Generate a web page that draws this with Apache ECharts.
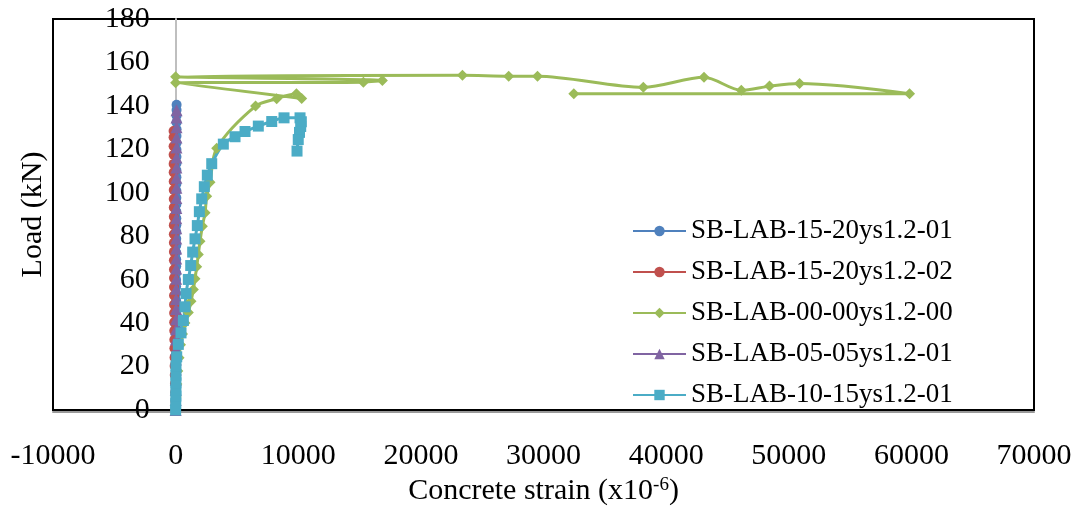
<!DOCTYPE html>
<html>
<head>
<meta charset="utf-8">
<script src="https://cdn.jsdelivr.net/npm/echarts@6/dist/echarts.min.js"></script>
<style>
  html, body { margin: 0; padding: 0; background: #fff; }
  #chart { width: 1083px; height: 506px; }
</style>
</head>
<body>
<div id="chart"></div>
<script>
// Load vs. concrete strain for five slab specimens
const seriesNames = [
  'SB-LAB-15-20ys1.2-01',
  'SB-LAB-15-20ys1.2-02',
  'SB-LAB-00-00ys1.2-00',
  'SB-LAB-05-05ys1.2-01',
  'SB-LAB-10-15ys1.2-01'
];

// SB-LAB-15-20ys1.2-01 (strain in microstrain, load in kN)
const strainA = [0, 4, 8, 10, 12, 15, 18, 20, 22, 25, 26, 28, 30, 31, 33, 35, 36, 38, 40, 41, 43, 44, 46, 47, 49, 50, 52, 53, 55, 56, 58, 59, 61, 62, 64, 65, 67, 68, 70, 71, 72, 74, 75, 77, 78, 80];
const loadA   = [0, 3.2, 6.1, 9.4, 12.6, 15.8, 18.9, 22.1, 25.3, 28.4, 31.6, 34.7, 37.9, 41.0, 44.2, 47.3, 50.5, 53.6, 56.8, 59.9, 63.1, 66.2, 69.4, 72.5, 75.7, 78.8, 82.0, 85.1, 88.3, 91.4, 94.6, 97.7, 100.9, 104.0, 107.2, 110.3, 113.5, 116.6, 119.8, 122.9, 126.1, 129.2, 132.4, 135.5, 138.1, 140.5];

// SB-LAB-15-20ys1.2-02
const strainB = [0, -20, -40, -55, -70, -80, -90, -100, -105, -110, -115, -120, -125, -128, -130, -133, -136, -138, -140, -142, -144, -146, -148, -150, -152, -154, -156, -158, -160, -162, -164, -166, -168];
const loadB   = [0, 4.1, 8.0, 12.2, 16.1, 20.3, 24.2, 28.4, 32.3, 36.5, 40.4, 44.6, 48.5, 52.7, 56.6, 60.8, 64.7, 68.9, 72.8, 77.0, 80.9, 85.1, 89.0, 93.2, 97.1, 101.3, 105.2, 109.4, 113.3, 117.5, 121.4, 125.6, 128.4];

// SB-LAB-00-00ys1.2-00
const strainC = [0, 40, 100, 180, 280, 400, 560, 760, 1036, 1256, 1445, 1580, 1720, 1850, 1990, 2180, 2400, 2535, 2805, 3350, 6520, 8240, 9850, 10280, 0, 15310, 16860, 0, 23390, 27160, 29510, 38140, 43090, 46130, 48430, 50880, 59850, 32470];
const loadC   = [0, 6.0, 12.0, 18.0, 24.0, 30.0, 35.0, 40.0, 44.9, 50.1, 55.5, 60.4, 65.9, 71.6, 77.7, 84.6, 90.8, 98.4, 104.9, 120.5, 139.9, 143.3, 145.6, 143.4, 150.6, 150.9, 151.7, 153.4, 154.1, 153.7, 153.7, 148.6, 153.2, 147.2, 149.1, 150.3, 145.6, 145.6];

// SB-LAB-05-05ys1.2-01
const strainD = [0, 5, 10, 14, 18, 22, 25, 28, 30, 33, 35, 37, 39, 41, 43, 45, 47, 49, 51, 53, 55, 57, 59, 61, 63, 65, 67, 69, 71, 73, 75];
const loadD   = [0, 4.6, 9.3, 13.9, 18.6, 23.2, 27.9, 32.5, 37.2, 41.8, 46.5, 51.1, 55.8, 60.4, 65.1, 69.7, 74.4, 79.0, 83.7, 88.3, 93.0, 97.6, 102.3, 106.9, 111.6, 116.2, 120.9, 125.5, 130.2, 134.6, 138.0];

// SB-LAB-10-15ys1.2-01
const strainE = [0, 10, 20, 25, 25, 30, 30, 90, 220, 440, 630, 767, 850, 1036, 1230, 1390, 1580, 1770, 1935, 2128, 2340, 2585, 2944, 3890, 4844, 5660, 6744, 7837, 8840, 10145, 10250, 10200, 10100, 10000, 9900];
const loadE   = [0, 3.0, 6.4, 9.0, 12.5, 16.0, 20.2, 24.5, 30.2, 35.5, 41.2, 47.5, 53.6, 60.1, 66.5, 72.7, 78.8, 84.9, 91.3, 97.2, 102.8, 108.1, 113.4, 122.4, 125.8, 128.2, 130.7, 132.8, 134.5, 134.5, 132.7, 130.5, 127.8, 124.5, 119.2];

const strainTicks = { min: -10000, max: 70000, interval: 10000 };
const loadTicks = { min: 0, max: 180, interval: 20 };

const colors = ['#4F81BD', '#C0504D', '#9BBB59', '#8064A2', '#4BACC6'];
const symbols = ['circle', 'circle', 'diamond', 'triangle', 'rect'];
const symbolSizes = [10, 10, 11, 12, 11];
const smoothing = [0, 0, 0.3, 0, 0.3];
const FONT = '"Liberation Serif", "Times New Roman", serif';

const GRID = { left: 53, right: 49, top: 19, bottom: 96 };
const PLOT_W = 1083 - GRID.left - GRID.right;
// shift the load axis so it sits on the zero-strain line
const yAxisShift = PLOT_W * (0 - strainTicks.min) / (strainTicks.max - strainTicks.min);

function pairs(xs, ys) {
  return xs.map((x, i) => [x, ys[i]]);
}
const datasets = [
  pairs(strainA, loadA),
  pairs(strainB, loadB),
  pairs(strainC, loadC),
  pairs(strainD, loadD),
  pairs(strainE, loadE)
];

const chart = echarts.init(document.getElementById('chart'), null, { renderer: 'canvas' });

chart.setOption({
  animation: false,
  backgroundColor: '#fff',
  grid: {
    left: GRID.left, right: GRID.right, top: GRID.top, bottom: GRID.bottom,
    containLabel: false,
    outerBoundsMode: 'none',
    show: true, borderColor: '#000', borderWidth: 2, backgroundColor: 'transparent'
  },
  legend: {
    orient: 'vertical',
    left: 627,
    top: 211,
    itemWidth: 53,
    itemHeight: 13,
    itemGap: 11,
    textStyle: { fontFamily: FONT, fontSize: 27, color: '#000', lineHeight: 30 },
    data: seriesNames
  },
  xAxis: {
    type: 'value',
    min: strainTicks.min, max: strainTicks.max, interval: strainTicks.interval,
    axisLine: { onZero: true, lineStyle: { color: '#000', width: 2, shadowColor: '#9a9a9a', shadowOffsetY: 2, shadowBlur: 0 } },
    axisTick: { show: false },
    splitLine: { show: false },
    axisLabel: { fontFamily: FONT, fontSize: 30, color: '#000', margin: 31, formatter: v => String(v) },
    name: '{t|Concrete strain (x10}{s|-6}{t|)}',
    nameLocation: 'middle',
    nameGap: 66,
    nameTextStyle: {
      rich: {
        t: { fontFamily: FONT, fontSize: 30, color: '#000' },
        s: { fontFamily: FONT, fontSize: 19, color: '#000', verticalAlign: 'top', padding: [0, 0, 12, 0] }
      }
    }
  },
  yAxis: {
    type: 'value',
    position: 'left',
    offset: -yAxisShift,
    min: loadTicks.min, max: loadTicks.max, interval: loadTicks.interval,
    axisLine: { show: true, onZero: false, lineStyle: { color: '#bfbfbf', width: 2 } },
    axisTick: { show: false },
    splitLine: { show: false },
    axisLabel: { fontFamily: FONT, fontSize: 30, color: '#000', margin: 26, formatter: v => String(v) },
    name: 'Load (kN)',
    nameLocation: 'middle',
    nameGap: 128,
    nameTextStyle: { fontFamily: FONT, fontSize: 30, color: '#000' }
  },
  series: datasets.map((data, i) => ({
    name: seriesNames[i],
    type: 'line',
    data: data,
    smooth: smoothing[i],
    symbol: symbols[i],
    symbolSize: symbolSizes[i],
    showAllSymbol: true,
    color: colors[i],
    lineStyle: { color: colors[i], width: 3 },
    itemStyle: { color: colors[i] },
    clip: false
  }))
});
</script>
</body>
</html>
